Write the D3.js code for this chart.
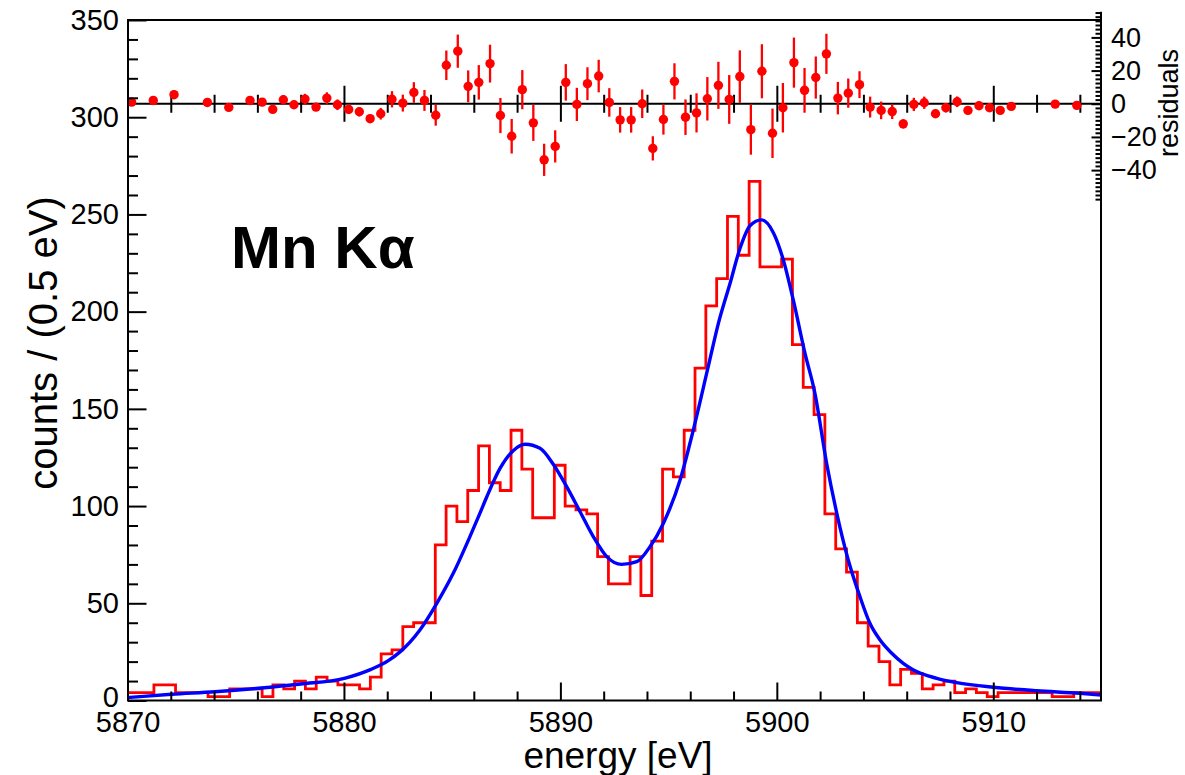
<!DOCTYPE html>
<html>
<head>
<meta charset="utf-8">
<script src="https://cdn.jsdelivr.net/npm/d3@7"></script>
<style>
  html, body { margin: 0; padding: 0; background: #ffffff; }
  svg { display: block; font-family: "Liberation Sans", Arial, Helvetica, sans-serif; }
</style>
</head>
<body>
<svg id="chart" width="1185" height="775"></svg>
<script>
// ---------------- data ----------------
const energyRange = [5870, 5915];
const countRange = [0, 350];
const residualRange = [-57.6, 55.5];

// histogram: left edge of first (partly visible) bin, bin width, counts per 0.5 eV
const histFirstEdge = 5869.72;
const histBinWidth = 0.5;
const histCounts = [
  4, 4, 4, 8, 8, 4, 4, 4, 2, 2,
  6, 6, 6, 2, 8, 6, 10, 6, 12, 10,
  8, 8, 6, 12, 24, 26, 38, 40, 40, 80,
  100, 92, 108, 131, 112, 108, 139, 119, 94, 94,
  121, 100, 98, 96, 74, 60, 60, 74, 54, 82,
  119, 115, 139, 171, 203, 217, 249, 229, 267, 223,
  223, 227, 183, 161, 147, 96, 78, 66, 40, 28,
  20, 8, 16, 14, 6, 8, 10, 4, 6, 4,
  2, 4, 4, 4, 4, 4, 2, 2, 4, 4,
  4
];

// fitted curve
const fitEnergy = [
  5870.00, 5870.12, 5872.04, 5874.04, 5876.04, 5878.00, 5880.02, 5881.25, 5882.05, 5882.59,
  5883.51, 5884.29, 5885.05, 5885.82, 5886.29, 5886.60, 5887.21, 5887.82, 5888.37, 5889.06,
  5889.67, 5890.29, 5890.91, 5891.52, 5892.14, 5892.83, 5893.53, 5894.14, 5894.76, 5895.53,
  5896.14, 5896.83, 5897.30, 5897.84, 5898.30, 5898.76, 5899.30, 5899.84, 5900.30, 5900.76,
  5901.30, 5901.76, 5902.30, 5902.77, 5903.30, 5903.84, 5904.30, 5904.77, 5905.31, 5905.84,
  5906.31, 5907.39, 5908.31, 5910.00, 5912.01, 5914.01, 5915.00
];
const fitValue = [
  1.5, 1.6, 3.2, 4.5, 6.3, 8.5, 11.4, 16.0, 20.5, 25.0,
  36.3, 50.0, 65.4, 84.3, 96.5, 104.8, 119.4, 128.5, 131.8, 129.7,
  121.5, 110.0, 97.1, 84.3, 74.0, 70.0, 71.4, 79.1, 91.2, 113.4,
  139.1, 171.7, 194.0, 214.6, 232.6, 244.2, 247.2, 240.6, 226.6, 206.0,
  178.6, 158.0, 122.0, 96.3, 72.3, 53.4, 39.7, 31.1, 24.3, 19.1,
  15.7, 11.4, 9.2, 6.8, 5.0, 3.7, 2.8
];

// residuals panel
const residEnergy = [
  5870.19, 5871.19, 5872.15, 5873.69, 5874.68, 5875.66, 5876.22, 5876.71, 5877.20, 5877.69,
  5878.20, 5878.71, 5879.21, 5879.70, 5880.22, 5880.71, 5881.21, 5881.70, 5882.22, 5882.72,
  5883.23, 5883.72, 5884.24, 5884.73, 5885.26, 5885.74, 5886.23, 5886.75, 5887.23, 5887.75,
  5888.24, 5888.75, 5889.25, 5889.76, 5890.25, 5890.76, 5891.25, 5891.77, 5892.26, 5892.76,
  5893.27, 5893.78, 5894.27, 5894.76, 5895.27, 5895.78, 5896.29, 5896.79, 5897.30, 5897.80,
  5898.29, 5898.80, 5899.31, 5899.80, 5900.28, 5900.79, 5901.28, 5901.80, 5902.29, 5902.82,
  5903.30, 5903.82, 5904.31, 5904.82, 5905.33, 5905.84, 5906.33, 5906.81, 5907.33, 5907.81,
  5908.33, 5908.83, 5909.34, 5909.83, 5910.32, 5910.83, 5912.86, 5913.86
];
const residValue = [
  1.0, 2.0, 5.5, 0.8, -2.2, 2.0, 1.0, -3.4, 2.4, -0.6,
  2.8, -2.0, 3.4, -0.6, -3.4, -4.8, -9.0, -6.0, 2.7, 0.4,
  6.8, 2.0, -6.9, 23.2, 31.7, 10.5, 12.9, 24.2, -7.1, -19.6,
  8.5, -11.5, -33.8, -25.7, 12.9, -0.4, 12.1, 16.7, 0.8, -9.7,
  -9.7, 0.0, -26.9, -9.5, 13.5, -8.1, -5.5, 3.0, 11.1, 2.6,
  16.4, -15.6, 19.6, -17.8, -2.4, 24.8, 8.1, 15.8, 30.1, 3.4,
  6.4, 11.5, -2.0, -4.0, -4.7, -12.1, -0.4, 0.6, -6.0, -2.4,
  1.2, -4.0, -1.2, -2.4, -4.0, -1.6, -0.2, -1.0
];
const residError = [
  2.0, 2.0, 2.8, 2.0, 1.4, 2.4, 2.4, 1.4, 2.8, 2.4,
  3.2, 2.4, 3.5, 3.2, 2.8, 2.8, 2.4, 3.5, 4.9, 5.1,
  6.2, 6.3, 6.3, 8.9, 10.0, 9.6, 10.4, 11.4, 10.6, 10.4,
  11.8, 10.9, 9.7, 9.7, 11.0, 10.0, 9.9, 9.8, 8.6, 7.7,
  7.7, 8.6, 7.3, 9.1, 10.9, 10.7, 11.8, 13.1, 14.2, 14.7,
  15.8, 15.1, 16.3, 14.9, 14.9, 15.1, 13.5, 12.7, 12.1, 9.8,
  8.8, 8.1, 6.3, 5.3, 4.5, 2.8, 4.0, 3.7, 2.4, 2.8,
  3.2, 2.0, 2.4, 2.0, 1.4, 2.0, 2.0, 2.0
];

// tick values
const xMajorTicks = [5870, 5880, 5890, 5900, 5910];
const xMinorTicks = [5872, 5874, 5876, 5878, 5882, 5884, 5886, 5888, 5892, 5894, 5896, 5898, 5902, 5904, 5906, 5908, 5912, 5914];
const yMajorTicks = [0, 50, 100, 150, 200, 250, 300, 350];
const yMinorTicks = [10, 20, 30, 40, 60, 70, 80, 90, 110, 120, 130, 140, 160, 170, 180, 190, 210, 220, 230, 240, 260, 270, 280, 290, 310, 320, 330, 340];
const rMajorTicks = [-40, -20, 0, 20, 40];
const rMinorTicks = [-57.5, -55, -52.5, -50, -47.5, -45, -42.5, -37.5, -35, -32.5, -30, -27.5, -25, -22.5,
  -17.5, -15, -12.5, -10, -7.5, -5, -2.5, 2.5, 5, 7.5, 10, 12.5, 15, 17.5,
  22.5, 25, 27.5, 30, 32.5, 35, 37.5, 42.5, 45, 47.5, 50, 52.5, 55];

const xTitle = "energy [eV]";
const yTitle = "counts / (0.5 eV)";
const rTitle = "residuals";
const label = "Mn K\u03b1";

// ---------------- drawing ----------------
const svg = d3.select("#chart");
const L = 128, R = 1101, T = 20, B = 700.5;

const x = d3.scaleLinear().domain(energyRange).range([127.5, 1101.5]);
const y = d3.scaleLinear().domain(countRange).range([B, T]);
const yr = d3.scaleLinear().domain(residualRange).range([199.3, 11.7]);

svg.append("defs").append("clipPath").attr("id", "plotclip")
  .append("rect").attr("x", L).attr("y", T).attr("width", R - L).attr("height", B - T);

// histogram points (step after), last point closes the last bin
const histPts = histCounts.map((c, i) => [histFirstEdge + i * histBinWidth, c]);
histPts.push([histFirstEdge + histCounts.length * histBinWidth, histCounts[histCounts.length - 1]]);

const gPlot = svg.append("g").attr("clip-path", "url(#plotclip)");
gPlot.append("path")
  .attr("d", d3.line().x(d => x(d[0])).y(d => y(d[1])).curve(d3.curveStepAfter)(histPts))
  .attr("fill", "none").attr("stroke", "#ff0000").attr("stroke-width", 2.8)
  .attr("stroke-linejoin", "miter");

const fitPts = fitEnergy.map((e, i) => [e, fitValue[i]]);
gPlot.append("path")
  .attr("d", d3.line().x(d => x(d[0])).y(d => y(d[1])).curve(d3.curveMonotoneX)(fitPts))
  .attr("fill", "none").attr("stroke", "#0000ff").attr("stroke-width", 3.4)
  .attr("stroke-linejoin", "round");

// ---- residual zero line with symmetric ticks
const zeroY = yr(0);
svg.append("line").attr("x1", L).attr("x2", R).attr("y1", zeroY).attr("y2", zeroY)
  .attr("stroke", "#000").attr("stroke-width", 2);
const zMinor = svg.append("g").attr("transform", `translate(0,${zeroY - 9})`)
  .call(d3.axisBottom(x).tickValues(xMinorTicks).tickSize(18).tickFormat(""));
const zMajor = svg.append("g").attr("transform", `translate(0,${zeroY - 18})`)
  .call(d3.axisBottom(x).tickValues(xMajorTicks.filter(v => v > energyRange[0])).tickSize(36).tickFormat(""));
[zMinor, zMajor].forEach(g => {
  g.select(".domain").remove();
  g.selectAll(".tick line").attr("stroke", "#000").attr("stroke-width", 2);
});

// ---- residual points with error bars
const resid = residEnergy.map((e, i) => ({ e, v: residValue[i], s: residError[i] }));
const gRes = svg.append("g");
gRes.selectAll("line.err").data(resid).join("line").attr("class", "err")
  .attr("x1", d => x(d.e)).attr("x2", d => x(d.e))
  .attr("y1", d => yr(d.v + d.s)).attr("y2", d => yr(d.v - d.s))
  .attr("stroke", "#ff0000").attr("stroke-width", 2.3);
gRes.selectAll("circle").data(resid).join("circle")
  .attr("cx", d => x(d.e)).attr("cy", d => yr(d.v)).attr("r", 4.7)
  .attr("fill", "#ff0000");

// ---- frame
svg.append("rect").attr("x", L).attr("y", T).attr("width", R - L).attr("height", B - T)
  .attr("fill", "none").attr("stroke", "#000").attr("stroke-width", 2);

const tickFont = 29;

// bottom axis
const gxMinor = svg.append("g").attr("transform", `translate(0,${B})`)
  .call(d3.axisBottom(x).tickValues(xMinorTicks).tickSize(-9).tickFormat(""));
const gxMajor = svg.append("g").attr("transform", `translate(0,${B})`)
  .call(d3.axisBottom(x).tickValues(xMajorTicks).tickSize(-18).tickPadding(11).tickFormat(d3.format("d")));
// left axis
const gyMinor = svg.append("g").attr("transform", `translate(${L},0)`)
  .call(d3.axisLeft(y).tickValues(yMinorTicks).tickSize(-10).tickFormat(""));
const gyMajor = svg.append("g").attr("transform", `translate(${L},0)`)
  .call(d3.axisLeft(y).tickValues(yMajorTicks).tickSize(-18.5).tickPadding(9).tickFormat(d3.format("d")));
// right residual axis
const grMinor = svg.append("g").attr("transform", `translate(${R},0)`)
  .call(d3.axisRight(yr).tickValues(rMinorTicks).tickSize(-5.5).tickFormat(""));
const grMajor = svg.append("g").attr("transform", `translate(${R},0)`)
  .call(d3.axisRight(yr).tickValues(rMajorTicks).tickSize(-9.5).tickPadding(10).tickFormat(d3.format("d")));

[gxMinor, gxMajor, gyMinor, gyMajor, grMinor, grMajor].forEach(g => {
  g.select(".domain").remove();
  g.selectAll(".tick line").attr("stroke", "#000").attr("stroke-width", 2);
  g.selectAll(".tick text").attr("fill", "#000").attr("font-size", tickFont)
    .attr("font-family", "'Liberation Sans', Arial, sans-serif");
});
grMajor.selectAll(".tick text").attr("font-size", 27);
// lift the "0" count label slightly, as in the reference
gyMajor.selectAll(".tick text").filter(d => d === 0).attr("dy", "0.2em");
// right axis line spans the whole residual range
svg.append("line").attr("x1", R).attr("x2", R).attr("y1", yr.range()[1]).attr("y2", yr.range()[0])
  .attr("stroke", "#000").attr("stroke-width", 2);

// titles
svg.append("text").attr("x", 618).attr("y", 768).attr("text-anchor", "middle")
  .attr("font-size", 37).attr("fill", "#000").text(xTitle);
svg.append("text").attr("transform", "translate(57,343) rotate(-90)").attr("text-anchor", "middle")
  .attr("font-size", 40).attr("fill", "#000").text(yTitle);
svg.append("text").attr("transform", "translate(1178,103) rotate(-90)").attr("text-anchor", "middle")
  .attr("font-size", 27).attr("fill", "#000").text(rTitle);

svg.append("text").attr("x", 231).attr("y", 268)
  .attr("font-size", 60).attr("font-weight", "bold").attr("fill", "#000").text(label);
</script>
</body>
</html>
